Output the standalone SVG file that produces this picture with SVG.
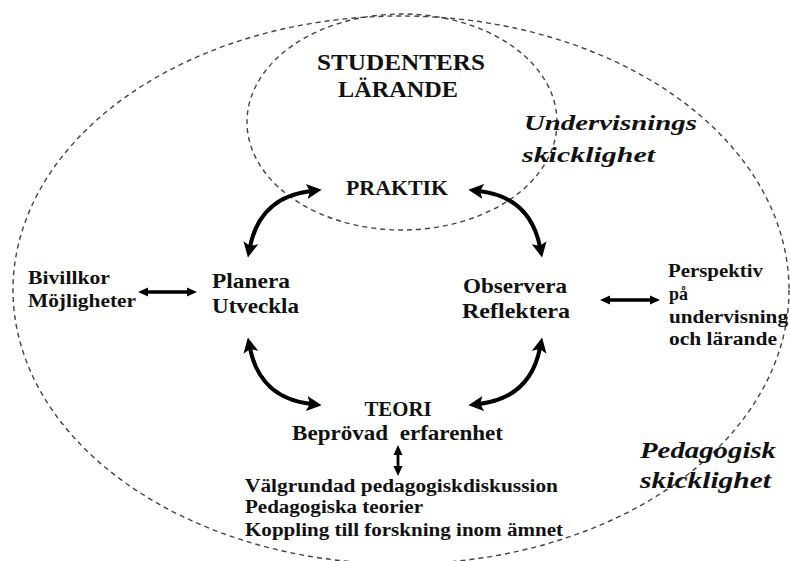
<svg xmlns="http://www.w3.org/2000/svg" width="790" height="561" viewBox="0 0 790 561">
<style>
.t{font-family:"Liberation Serif","Times New Roman",serif;font-weight:bold;fill:#111}
.i{font-style:italic}
.ring{fill:none;stroke:#444;stroke-width:1.4;stroke-dasharray:5 4}
.big{fill:none;stroke:#000;stroke-width:4}
.sm{fill:none;stroke:#000;stroke-width:3.5}
</style>
<defs>
<marker id="ah" viewBox="0 0 14 14" refX="4" refY="7" markerWidth="15" markerHeight="15" markerUnits="userSpaceOnUse" orient="auto-start-reverse">
<path d="M0,0 L14,7 L0,14 L3,7 z" fill="#000"/>
</marker>
<marker id="as" viewBox="0 0 10 10" refX="3" refY="5" markerWidth="10" markerHeight="10" markerUnits="userSpaceOnUse" orient="auto-start-reverse">
<path d="M0,0.5 L10,5 L0,9.5 z" fill="#000"/>
</marker>
</defs>
<rect width="790" height="561" fill="#fff"/>
<g id="rings">
<ellipse class="ring" cx="401" cy="290" rx="388" ry="274"/>
<ellipse class="ring" cx="402" cy="122" rx="155" ry="108"/>
</g>
<g id="connectors">
<path class="big" d="M250,247 Q260,197 311,191" marker-start="url(#ah)" marker-end="url(#ah)"/>
<path class="big" d="M540,247 Q530,197 479,191" marker-start="url(#ah)" marker-end="url(#ah)"/>
<path class="big" d="M250,348 Q260,398 311,404" marker-start="url(#ah)" marker-end="url(#ah)"/>
<path class="big" d="M540,348 Q530,398 479,404" marker-start="url(#ah)" marker-end="url(#ah)"/>
<path class="sm" d="M145,292 L190,292" marker-start="url(#as)" marker-end="url(#as)"/>
<path class="sm" d="M607,300 L653,300" marker-start="url(#as)" marker-end="url(#as)"/>
<path class="sm" style="stroke-width:2.8" d="M398,452 L398,469" marker-start="url(#as)" marker-end="url(#as)"/>
</g>
<g id="studenters">
<text class="t" x="401" y="70" font-size="24" text-anchor="middle" textLength="168" lengthAdjust="spacingAndGlyphs">STUDENTERS</text>
<text class="t" x="398" y="97" font-size="24" text-anchor="middle" textLength="120" lengthAdjust="spacingAndGlyphs">LÄRANDE</text>
</g>
<g id="undervisning">
<text class="t i" x="524" y="130" font-size="22" textLength="173" lengthAdjust="spacingAndGlyphs">Undervisnings</text>
<text class="t i" x="522" y="162" font-size="22" textLength="133" lengthAdjust="spacingAndGlyphs">skicklighet</text>
</g>
<g id="praktik">
<text class="t" x="397" y="195" font-size="21" text-anchor="middle" textLength="102" lengthAdjust="spacingAndGlyphs">PRAKTIK</text>
</g>
<g id="planera">
<text class="t" x="212" y="288" font-size="22" textLength="78" lengthAdjust="spacingAndGlyphs">Planera</text>
<text class="t" x="212" y="313" font-size="22" textLength="87" lengthAdjust="spacingAndGlyphs">Utveckla</text>
</g>
<g id="observera">
<text class="t" x="463" y="293" font-size="22" textLength="104" lengthAdjust="spacingAndGlyphs">Observera</text>
<text class="t" x="462" y="318" font-size="22" textLength="108" lengthAdjust="spacingAndGlyphs">Reflektera</text>
</g>
<g id="teori">
<text class="t" x="398" y="416" font-size="21" text-anchor="middle" textLength="67" lengthAdjust="spacingAndGlyphs">TEORI</text>
<text class="t" x="292" y="440" font-size="21" style="white-space:pre" textLength="211" lengthAdjust="spacingAndGlyphs">Beprövad  erfarenhet</text>
</g>
<g id="diskussion">
<text class="t" x="245" y="492" font-size="18" textLength="313" lengthAdjust="spacingAndGlyphs">Välgrundad pedagogiskdiskussion</text>
<text class="t" x="245" y="513" font-size="18" textLength="178" lengthAdjust="spacingAndGlyphs">Pedagogiska teorier</text>
<text class="t" x="245" y="536" font-size="18" textLength="318" lengthAdjust="spacingAndGlyphs">Koppling till forskning inom ämnet</text>
</g>
<g id="bivillkor">
<text class="t" x="28" y="284" font-size="18" textLength="82" lengthAdjust="spacingAndGlyphs">Bivillkor</text>
<text class="t" x="28" y="307" font-size="18" textLength="108" lengthAdjust="spacingAndGlyphs">Möjligheter</text>
</g>
<g id="perspektiv">
<text class="t" x="668" y="277" font-size="18" textLength="95" lengthAdjust="spacingAndGlyphs">Perspektiv</text>
<text class="t" x="669" y="300" font-size="18">på</text>
<text class="t" x="669" y="323" font-size="18" textLength="119" lengthAdjust="spacingAndGlyphs">undervisning</text>
<text class="t" x="669" y="345" font-size="18" textLength="108" lengthAdjust="spacingAndGlyphs">och lärande</text>
</g>
<g id="pedagogisk">
<text class="t i" x="640" y="458" font-size="23" textLength="136" lengthAdjust="spacingAndGlyphs">Pedagogisk</text>
<text class="t i" x="640" y="488" font-size="23" textLength="131" lengthAdjust="spacingAndGlyphs">skicklighet</text>
</g>
</svg>
